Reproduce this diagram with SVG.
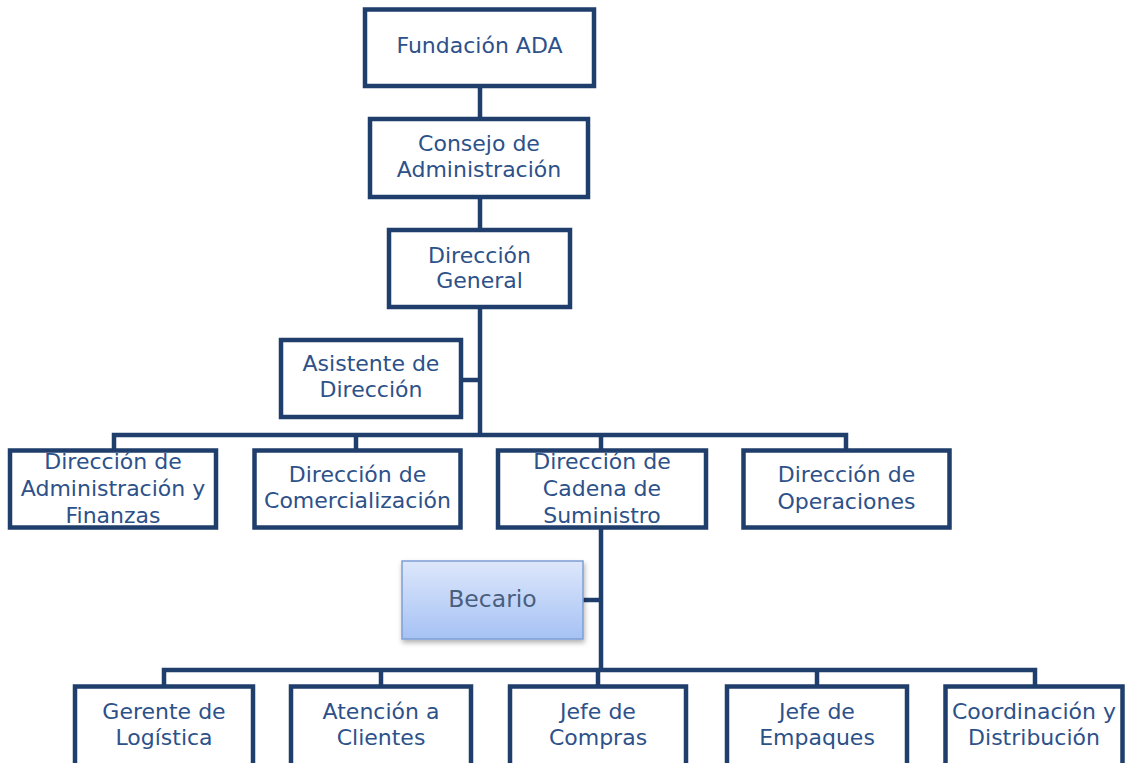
<svg xmlns="http://www.w3.org/2000/svg" width="1125" height="763" viewBox="0 0 1125 763">
<style>
.box{fill:#ffffff;stroke:#1f3e6b;stroke-width:4.5}
.conn{stroke:#1f3e6b;stroke-width:4.5;fill:none}
.t{font-family:"DejaVu Sans","Liberation Sans",sans-serif;font-size:22px;fill:#2d5189;text-anchor:middle}
.tb{font-family:"DejaVu Sans","Liberation Sans",sans-serif;font-size:23.5px;fill:#4a5e7e;text-anchor:middle}
</style>
<defs>
<linearGradient id="gb" x1="0" y1="0" x2="0" y2="1">
<stop offset="0" stop-color="#dde7fb"/>
<stop offset="1" stop-color="#a6c2f4"/>
</linearGradient>
<filter id="sh" x="-10%" y="-10%" width="130%" height="140%">
<feDropShadow dx="1" dy="3" stdDeviation="2.5" flood-color="#000" flood-opacity="0.3"/>
</filter>
</defs>
<g id="connectors">
<line class="conn" x1="480" y1="86" x2="480" y2="119"/>
<line class="conn" x1="480" y1="197" x2="480" y2="230"/>
<line class="conn" x1="480" y1="307" x2="480" y2="435"/>
<line class="conn" x1="461" y1="380" x2="480" y2="380"/>
<path class="conn" d="M114,451 V435 H846 V451"/>
<line class="conn" x1="356" y1="435" x2="356" y2="451"/>
<line class="conn" x1="601" y1="435" x2="601" y2="451"/>
<line class="conn" x1="601" y1="528" x2="601" y2="670"/>
<line class="conn" x1="583" y1="600" x2="601" y2="600"/>
<path class="conn" d="M164,687 V670 H1035 V687"/>
<line class="conn" x1="381" y1="670" x2="381" y2="687"/>
<line class="conn" x1="598" y1="670" x2="598" y2="687"/>
<line class="conn" x1="817" y1="670" x2="817" y2="687"/>
</g>
<g id="fundacion">
<rect class="box" x="365" y="9.5" width="229" height="76.5"/>
<text class="t" x="479.5" y="53">Fundación ADA</text>
</g>
<g id="consejo">
<rect class="box" x="370" y="119" width="218" height="78"/>
<text class="t" x="479" y="151">Consejo de</text>
<text class="t" x="479" y="177">Administración</text>
</g>
<g id="direccion-general">
<rect class="box" x="389" y="230" width="181" height="77"/>
<text class="t" x="479.5" y="263">Dirección</text>
<text class="t" x="479.5" y="288">General</text>
</g>
<g id="asistente">
<rect class="box" x="281" y="340" width="180" height="77"/>
<text class="t" x="371" y="371">Asistente de</text>
<text class="t" x="371" y="397">Dirección</text>
</g>
<g id="admin-finanzas">
<rect class="box" x="10" y="450.5" width="206" height="77"/>
<text class="t" x="113" y="469">Dirección de</text>
<text class="t" x="113" y="496">Administración y</text>
<text class="t" x="113" y="523">Finanzas</text>
</g>
<g id="comercializacion">
<rect class="box" x="254.5" y="450.5" width="206" height="77"/>
<text class="t" x="357.5" y="482">Dirección de</text>
<text class="t" x="357.5" y="508">Comercialización</text>
</g>
<g id="cadena-suministro">
<rect class="box" x="498" y="450.5" width="208" height="77"/>
<text class="t" x="602" y="469">Dirección de</text>
<text class="t" x="602" y="496">Cadena de</text>
<text class="t" x="602" y="523">Suministro</text>
</g>
<g id="operaciones">
<rect class="box" x="743.5" y="450.5" width="206" height="77"/>
<text class="t" x="846.5" y="482">Dirección de</text>
<text class="t" x="846.5" y="509">Operaciones</text>
</g>
<g id="becario">
<rect x="402" y="561" width="181" height="78" fill="url(#gb)" stroke="#7d9fd6" stroke-width="1.5" filter="url(#sh)"/>
<text class="tb" x="492.5" y="607">Becario</text>
</g>
<g id="gerente-logistica">
<rect class="box" x="75" y="686.5" width="178" height="90"/>
<text class="t" x="164" y="719">Gerente de</text>
<text class="t" x="164" y="745">Logística</text>
</g>
<g id="atencion-clientes">
<rect class="box" x="291" y="686.5" width="180" height="90"/>
<text class="t" x="381" y="719">Atención a</text>
<text class="t" x="381" y="745">Clientes</text>
</g>
<g id="jefe-compras">
<rect class="box" x="510" y="686.5" width="176" height="90"/>
<text class="t" x="598" y="719">Jefe de</text>
<text class="t" x="598" y="745">Compras</text>
</g>
<g id="jefe-empaques">
<rect class="box" x="727" y="686.5" width="180" height="90"/>
<text class="t" x="817" y="719">Jefe de</text>
<text class="t" x="817" y="745">Empaques</text>
</g>
<g id="coordinacion-distribucion">
<rect class="box" x="945.5" y="686.5" width="177" height="90"/>
<text class="t" x="1034" y="719">Coordinación y</text>
<text class="t" x="1034" y="745">Distribución</text>
</g>
</svg>
